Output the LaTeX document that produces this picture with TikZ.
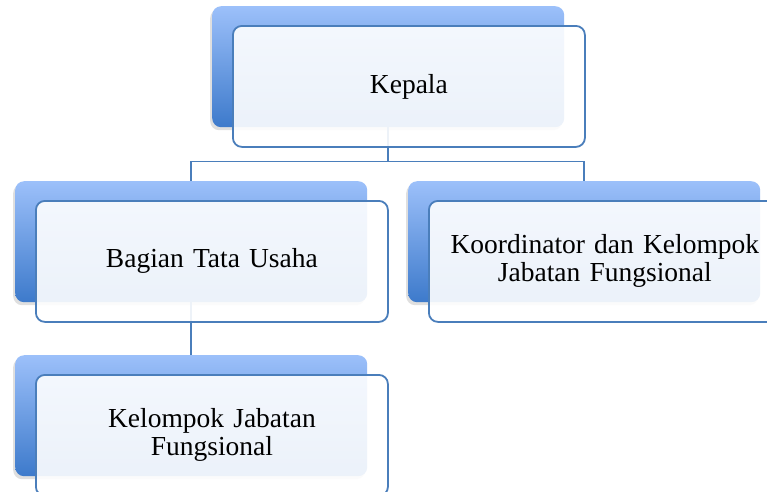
\documentclass[tikz,border=0pt]{standalone}
\usepackage{fontspec}
\setmainfont{Liberation Serif}
\usetikzlibrary{shadows,backgrounds}
\definecolor{linec}{HTML}{4A7EBB}
\definecolor{backtop}{HTML}{9CC0FA}
\definecolor{backbot}{HTML}{3D7ACB}
\tikzset{
  backbox/.style={anchor=north west, minimum width=352pt, minimum height=121pt,
    rounded corners=9pt, top color=backtop, bottom color=backbot, draw=none,
    drop shadow={shadow xshift=-2pt, shadow yshift=-3pt, opacity=0.25}},
  frontbox/.style={anchor=north west, minimum width=352pt, minimum height=121pt,
    rounded corners=9pt, draw=linec, line width=1.8pt, fill=white, fill opacity=0.9,
    text opacity=1, align=center, text width=345pt,
    font=\fontsize{27.5}{28}\selectfont},
  conn/.style={draw=linec, line width=1.8pt}
}
\begin{document}
\begin{tikzpicture}[x=1pt,y=-1pt]
\clip (0,0) rectangle (767,491);
\fill[white] (0,0) rectangle (767,491);
% back boxes
\node[backbox] (kb) at (212,6) {};
\node[backbox] (bb) at (15,181) {};
\node[backbox] (ob) at (408,181) {};
\node[backbox] (lb) at (15,355) {};
% connectors
\draw[conn] (kb.south) -- ++(0,34) coordinate (j) -| (bb.north);
\draw[conn] (j) -| (ob.north);
\draw[conn] (bb.south) -- (lb.north);
% front boxes
\node[frontbox] (kf) at (232,25) {Kepala};
\node[frontbox] (bf) at (35,200) {Bagian Tata Usaha};
\node[frontbox] (of) at (428,200) {Koordinator dan Kelompok\\Jabatan Fungsional};
\node[frontbox] (lf) at (35,374) {Kelompok Jabatan\\Fungsional};
\end{tikzpicture}
\end{document}
